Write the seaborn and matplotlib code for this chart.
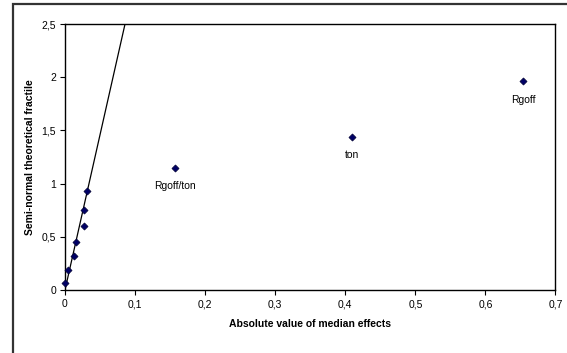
import pandas as pd
import seaborn as sns
import matplotlib.pyplot as plt
from matplotlib.patches import Rectangle

# Absolute value of median effects vs semi-normal theoretical fractile
effects = [0.0005, 0.0047, 0.0129, 0.0157, 0.0276, 0.0271, 0.031, 0.157, 0.409, 0.654]
fractiles = [0.063, 0.189, 0.319, 0.454, 0.598, 0.755, 0.935, 1.150, 1.440, 1.960]
point_labels = ['', '', '', '', '', '', '', 'Rgoff/ton', 'ton', 'Rgoff']

# reference line through the small effects
line_x = [0.0, 0.0857]
line_y = [0.0, 2.5]

x_ticks = [0, 0.1, 0.2, 0.3, 0.4, 0.5, 0.6, 0.7]
y_ticks = [0, 0.5, 1, 1.5, 2, 2.5]

df = pd.DataFrame({'effect': effects, 'fractile': fractiles, 'label': point_labels})

sns.set_style('white')
plt.rcParams['font.family'] = ['Liberation Sans', 'DejaVu Sans']

fig = plt.figure(figsize=(5.67, 3.53), dpi=100)
ax = fig.add_axes([0.1146, 0.1785, 0.8651, 0.7535])

# chart area frame
fig.patches.append(Rectangle((12.5 / 567, -0.05), 1.0, 1.0 - 3.5 / 353 + 0.05,
                             transform=fig.transFigure, fill=False,
                             edgecolor='#333333', linewidth=1.6, zorder=0))

sns.lineplot(x=line_x, y=line_y, ax=ax, color='black', linewidth=0.9)
sns.scatterplot(data=df, x='effect', y='fractile', ax=ax, marker='D', s=13,
                color='#000066', edgecolor='#000033', linewidth=0.5, zorder=3, clip_on=False)

for _, row in df.iterrows():
    if row['label']:
        ax.annotate(row['label'], (row['effect'], row['fractile']), xytext=(0, -13),
                    textcoords='offset points', ha='center', va='center', fontsize=7.5,
                    color='black')

ax.set_xlim(0, 0.7)
ax.set_ylim(0, 2.5)
ax.set_xticks(x_ticks)
ax.set_yticks(y_ticks)
ax.set_xticklabels([('%g' % v).replace('.', ',') for v in x_ticks])
ax.set_yticklabels([('%g' % v).replace('.', ',') for v in y_ticks])
ax.tick_params(axis='both', which='both', direction='out', length=3.5, width=0.8,
               labelsize=7.5, pad=3, bottom=True, left=True, colors='black')

for side in ['left', 'bottom', 'top', 'right']:
    ax.spines[side].set_visible(True)
    ax.spines[side].set_color('black')
    ax.spines[side].set_linewidth(1.0)

ax.set_xlabel('Absolute value of median effects', fontsize=7.5, fontweight='bold',
              labelpad=7, color='black')
ax.set_ylabel('Semi-normal theoretical fractile', fontsize=7.5, fontweight='bold',
              labelpad=5, color='black')

fig.savefig('out.png', dpi=100)
